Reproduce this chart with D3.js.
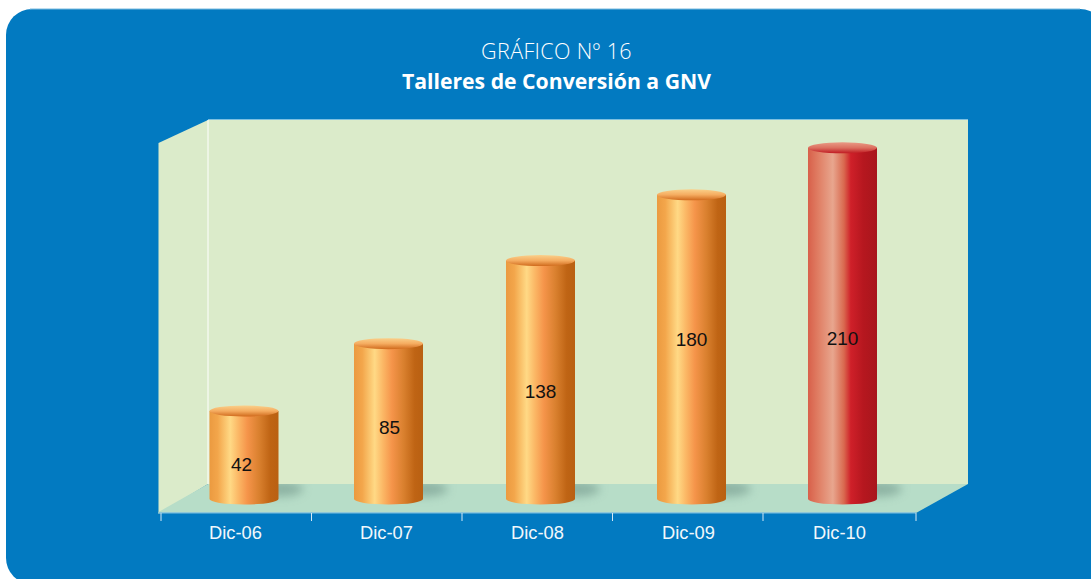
<!DOCTYPE html>
<html><head><meta charset="utf-8">
<script src="https://cdn.jsdelivr.net/npm/d3@7/dist/d3.min.js"></script>
<style>html,body{margin:0;padding:0;background:#fff;overflow:hidden}svg{display:block}</style>
</head><body><svg id="c" width="1091" height="579"></svg>
<script>
const categories = ["Dic-06","Dic-07","Dic-08","Dic-09","Dic-10"];
const values = [42,85,138,180,210];
const highlighted = ["Dic-10"];
const titleLines = ["GRÁFICO Nº 16","Talleres de Conversión a GNV"];

const svg = d3.select("#c");
const defs = svg.append("defs");
const hGrad=(id,stops)=>{const g=defs.append("linearGradient").attr("id",id);
  stops.forEach(([o,c])=>g.append("stop").attr("offset",o).attr("stop-color",c));};
const vGrad=(id,stops)=>{const g=defs.append("linearGradient").attr("id",id).attr("x1",0).attr("y1",0).attr("x2",0).attr("y2",1);
  stops.forEach(([o,c])=>g.append("stop").attr("offset",o).attr("stop-color",c));};
hGrad("orange",[[0,"#EB9A40"],[.12,"#F3A64B"],[.3,"#FFD985"],[.42,"#FBB765"],[.55,"#F5944A"],[.72,"#D9802E"],[.88,"#BF6414"],[1,"#B96012"]]);
hGrad("red",[[0,"#D8604A"],[.15,"#E07E64"],[.36,"#E8A68E"],[.52,"#D9694F"],[.62,"#CF2029"],[.8,"#B6171F"],[1,"#A8161C"]]);
vGrad("orangeTop",[[0,"#FAD08A"],[.5,"#F5AC60"],[1,"#D06A1C"]]);
vGrad("redTop",[[0,"#E99A86"],[.5,"#DC7060"],[1,"#C01A22"]]);
defs.append("filter").attr("id","blur").attr("x","-60%").attr("y","-100%").attr("width","220%").attr("height","300%")
  .append("feGaussianBlur").attr("stdDeviation",5);
defs.append("clipPath").attr("id","floorClip").append("rect").attr("x",158).attr("y",484).attr("width",810).attr("height",29);

// panel
svg.append("rect").attr("x",6).attr("y",9).attr("width",1100).attr("height",575).attr("rx",26).attr("fill","#027AC1");
svg.append("rect").attr("x",30).attr("y",8.5).attr("width",1050).attr("height",1).attr("fill","#7DBCE0");

// titles
svg.append("text").attr("x",556.5).attr("y",59.3).attr("text-anchor","middle")
  .attr("font-family","'Open Sans'").attr("font-weight",300).attr("font-size",21.5).attr("letter-spacing",0.35).attr("fill","#fff").text(titleLines[0]);
svg.append("text").attr("x",556.5).attr("y",89).attr("text-anchor","middle")
  .attr("font-family","'Open Sans'").attr("font-weight",700).attr("font-size",21.2).attr("fill","#fff").text(titleLines[1]);

// 3D room
const line=d3.line();
const wall="#DBEBCA";
svg.append("path").attr("d",line([[158.5,143],[208,120],[208,484],[158.5,514]])+"Z").attr("fill",wall);
svg.append("rect").attr("x",208).attr("y",120).attr("width",760).attr("height",364).attr("fill",wall);
svg.append("path").attr("d",line([[208,484],[968,484],[916,513],[158.5,513],[158.5,512]])+"Z").attr("fill","#B7DDC8");
svg.append("line").attr("x1",208).attr("x2",968).attr("y1",119.5).attr("y2",119.5).attr("stroke","#7DC0E0");
svg.append("line").attr("x1",208).attr("x2",208).attr("y1",120).attr("y2",484).attr("stroke","#fff");
svg.append("line").attr("x1",158.5).attr("x2",916).attr("y1",512.8).attr("y2",512.8).attr("stroke","#7FBFDF").attr("stroke-width",1.2);

// scales
const x=d3.scaleBand().domain(categories).range([161,916]);
const xTicks=d3.scaleBand().domain(categories).range([161,913.5]);
const y=d3.scaleLinear().domain([0,210]).range([476.8,147.8]);
const baseY=499, rx=34.5, ry=5.5, barShift=[7.5,1,2,2,2], labelShift=[9.5,6,11.5,-7,15];

// axis
const axis=d3.axisBottom(x).tickSize(0).tickPadding(13);
const ag=svg.append("g").attr("transform","translate(-1,513)").call(axis);
ag.select(".domain").remove();
ag.selectAll("text").attr("font-family","'Liberation Sans'").attr("font-size",18.3).attr("fill","#F2F8FC").attr("dy","0.71em");
const bounds=categories.map(c=>xTicks(c)).concat([x.range()[1]]);
svg.selectAll(".t").data(bounds).join("line").attr("x1",d=>d).attr("x2",d=>d).attr("y1",513).attr("y2",521)
  .attr("stroke","#D5E9F5").attr("stroke-width",1);

// cylinders
const bars=svg.selectAll(".bar").data(categories.map((c,i)=>({c,v:values[i],i}))).join("g").attr("class","bar");
const cx=d=>x(d.c)+x.bandwidth()/2+barShift[d.i];
const hi=d=>highlighted.includes(d.c);
bars.append("g").attr("clip-path","url(#floorClip)").append("ellipse")
  .attr("cx",d=>cx(d)+rx+1).attr("cy",489).attr("rx",24).attr("ry",7.5)
  .attr("fill","#7FA496").attr("opacity",.75).attr("filter","url(#blur)");
bars.append("path").attr("d",d=>{const t=y(d.v),l=cx(d)-rx,r=cx(d)+rx;
  return `M${l},${t}L${l},${baseY}A${rx},${ry} 0 0 0 ${r},${baseY}L${r},${t}Z`;})
  .attr("fill",d=>hi(d)?"url(#red)":"url(#orange)");
bars.append("ellipse").attr("cx",cx).attr("cy",d=>y(d.v)).attr("rx",rx).attr("ry",ry)
  .attr("fill",d=>hi(d)?"url(#redTop)":"url(#orangeTop)");
bars.append("text").attr("x",d=>x(d.c)+x.bandwidth()/2+(d.i?2:5)).attr("y",d=>(y(d.v)+baseY)/2+labelShift[d.i])
  .attr("text-anchor","middle").attr("dominant-baseline","central")
  .attr("font-family","'Liberation Sans'").attr("font-size",19).attr("fill","#111").text(d=>d.v);
</script></body></html>
